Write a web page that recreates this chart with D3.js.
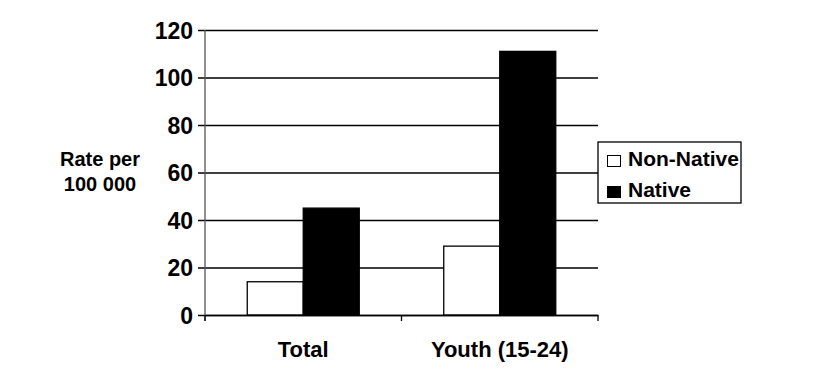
<!DOCTYPE html>
<html><head><meta charset="utf-8">
<script src="https://cdn.jsdelivr.net/npm/d3@7"></script>
<style>
html,body{margin:0;padding:0;background:#fff;}
text{font-family:"Liberation Sans",Arial,sans-serif;font-weight:bold;fill:#000;}
</style></head>
<body>
<svg id="chart" width="822" height="384"></svg>
<script>
const categories = ["Total", "Youth (15-24)"];
const seriesNames = ["Non-Native", "Native"];
const nonNative = [14, 29];
const native = [45, 111];
const yTicks = [0, 20, 40, 60, 80, 100, 120];
const seriesColors = ["#ffffff", "#000000"];

(function () {
const svg = d3.select("#chart");
const mLeft = 205, mRight = 598, mTop = 30, mBottom = 315;

const x = d3.scaleBand().domain(categories).range([mLeft, mRight]).paddingInner(0.43).paddingOuter(0.215);
const xs = d3.scaleBand().domain(seriesNames).range([0, x.bandwidth()]);
const y = d3.scaleLinear().domain([0, 120]).range([mBottom, mTop]);

// gridlines + y ticks
const yAxis = d3.axisLeft(y).tickValues(yTicks).tickSize(-(mRight - mLeft)).tickSizeOuter(0).tickPadding(12);
const gy = svg.append("g").attr("transform", `translate(${mLeft},0)`).call(yAxis);
gy.select(".domain").remove();
gy.selectAll(".tick line").attr("x1", -7).attr("stroke", "#000").attr("stroke-width", 1.3);
gy.selectAll(".tick text").style("font-size", "23px").attr("dy", "0.36em");

// bars
const data = categories.map((c, i) => ({cat: c, vals: [nonNative[i], native[i]]}));
const g = svg.append("g");
data.forEach(d => {
  d.vals.forEach((v, j) => {
    g.append("rect")
      .attr("x", x(d.cat) + xs(seriesNames[j]))
      .attr("y", y(v))
      .attr("width", xs.bandwidth())
      .attr("height", y(0) - y(v))
      .attr("fill", seriesColors[j])
      .attr("stroke", "#000")
      .attr("stroke-width", 1.3);
  });
});

// y axis line
svg.append("line").attr("x1", mLeft).attr("x2", mLeft).attr("y1", mTop).attr("y2", mBottom + 6)
  .attr("stroke", "#555").attr("stroke-width", 1.3);

// x axis
const xAxis = d3.axisBottom(x).tickSize(0).tickSizeOuter(0).tickPadding(26);
const gx = svg.append("g").attr("transform", `translate(0,${mBottom})`).call(xAxis);
gx.select(".domain").attr("stroke", "#000").attr("stroke-width", 1.3);
gx.selectAll(".tick text").style("font-size", "22px").attr("dy", "0.71em");
// category boundary ticks
const bounds = [mLeft, (x(categories[0]) + x.bandwidth() + x(categories[1])) / 2, mRight];
svg.append("g").selectAll("line").data(bounds).join("line")
  .attr("x1", d => d).attr("x2", d => d).attr("y1", mBottom).attr("y2", mBottom + 6)
  .attr("stroke", "#000").attr("stroke-width", 1.3);

// y title
svg.append("text").attr("x", 100).attr("y", 166).attr("text-anchor", "middle").style("font-size", "20px").text("Rate per");
svg.append("text").attr("x", 100).attr("y", 191).attr("text-anchor", "middle").style("font-size", "20px").text("100 000");

// legend
const lg = svg.append("g").attr("transform", "translate(598,142)");
lg.append("rect").attr("width", 143).attr("height", 61).attr("fill", "#fff").attr("stroke", "#000").attr("stroke-width", 1.3);
seriesNames.forEach((s, i) => {
  lg.append("rect").attr("x", 9.5).attr("y", 13.5 + i * 31).attr("width", 13).attr("height", 11)
    .attr("fill", seriesColors[i]).attr("stroke", "#000").attr("stroke-width", 1);
  lg.append("text").attr("x", 30).attr("y", 24 + i * 31).style("font-size", "21px").text(s);
});
})();
</script>
</body></html>
